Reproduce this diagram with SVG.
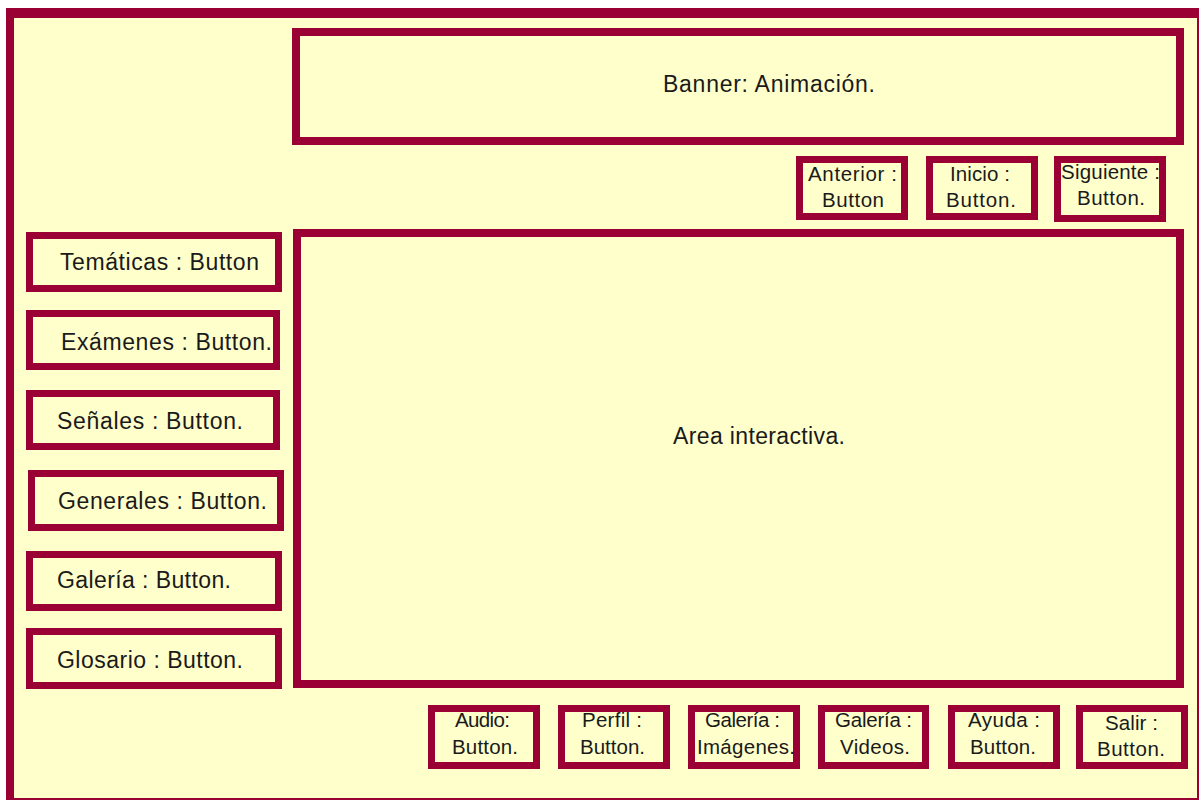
<svg xmlns="http://www.w3.org/2000/svg" width="1201" height="800" viewBox="0 0 1201 800">
<style>
.box{fill:#FFFFCC;stroke:#9B0035;stroke-width:7}
.big{fill:#FFFFCC;stroke:#9B0035;stroke-width:8}
.t{font-family:"Liberation Sans",Arial,sans-serif;fill:#1a1a1a;text-anchor:middle}
.l{font-size:23px}
.s{font-size:20.5px}
</style>
<rect x="0" y="0" width="1201" height="800" fill="#FFFFFF"/>
<g id="frame">
<rect x="7" y="9" width="1191" height="790" fill="#FFFFCC" stroke="#9B0035" stroke-width="2"/>
<rect x="6" y="8" width="1193" height="10" fill="#9B0035"/>
<rect x="6" y="8" width="8" height="792" fill="#9B0035"/>
</g>
<g id="connectors"/>
<g id="banner">
<rect class="big" x="296" y="32" width="884" height="109"/>
<text class="t l" x="769" y="92" textLength="212">Banner: Animación.</text>
</g>
<g id="area">
<rect class="big" x="297" y="233" width="883" height="451"/>
<text class="t l" x="759" y="444" textLength="172">Area interactiva.</text>
</g>
<g id="tematicas">
<rect class="box" x="29.5" y="235.5" width="249" height="53"/>
<text class="t l" x="159.5" y="270" textLength="199">Temáticas : Button</text>
</g>
<g id="examenes">
<rect class="box" x="29.5" y="313.5" width="247" height="53"/>
<text class="t l" x="166.5" y="350" textLength="211">Exámenes : Button.</text>
</g>
<g id="senales">
<rect class="box" x="29.5" y="393.5" width="247" height="53"/>
<text class="t l" x="150" y="429" textLength="186">Señales : Button.</text>
</g>
<g id="generales">
<rect class="box" x="31.5" y="473.5" width="249" height="54"/>
<text class="t l" x="162.5" y="509" textLength="209">Generales : Button.</text>
</g>
<g id="galeria">
<rect class="box" x="29.5" y="554.5" width="249" height="53"/>
<text class="t l" x="144" y="588" textLength="174">Galería : Button.</text>
</g>
<g id="glosario">
<rect class="box" x="29.5" y="631.5" width="249" height="54"/>
<text class="t l" x="150" y="668" textLength="186">Glosario : Button.</text>
</g>
<g id="anterior">
<rect class="box" x="799.5" y="159.5" width="105" height="57"/>
<text class="t s" x="852.5" y="181" textLength="89">Anterior :</text>
<text class="t s" x="853" y="207" textLength="62">Button</text>
</g>
<g id="inicio">
<rect class="box" x="929.5" y="159.5" width="105" height="57"/>
<text class="t s" x="980" y="181" textLength="60">Inicio :</text>
<text class="t s" x="981" y="207" textLength="70">Button.</text>
</g>
<g id="siguiente">
<rect class="box" x="1057.5" y="159.5" width="105" height="59"/>
<text class="t s" x="1110.5" y="179" textLength="99">Siguiente :</text>
<text class="t s" x="1111" y="205" textLength="68">Button.</text>
</g>
<g id="audio">
<rect class="box" x="431.5" y="708.5" width="105" height="57"/>
<text class="t s" x="482.5" y="727" textLength="55">Audio:</text>
<text class="t s" x="485" y="754" textLength="66">Button.</text>
</g>
<g id="perfil">
<rect class="box" x="561.5" y="708.5" width="105" height="57"/>
<text class="t s" x="612" y="727" textLength="60">Perfil :</text>
<text class="t s" x="612.5" y="754" textLength="65">Button.</text>
</g>
<g id="galeria-imagenes">
<rect class="box" x="691.5" y="708.5" width="105" height="57"/>
<text class="t s" x="742.5" y="727" textLength="75">Galería :</text>
<text class="t s" x="746" y="754" textLength="98">Imágenes.</text>
</g>
<g id="galeria-videos">
<rect class="box" x="821.5" y="708.5" width="104" height="57"/>
<text class="t s" x="873.5" y="727" textLength="77">Galería :</text>
<text class="t s" x="875" y="754" textLength="70">Videos.</text>
</g>
<g id="ayuda">
<rect class="box" x="951.5" y="708.5" width="105" height="57"/>
<text class="t s" x="1004" y="727" textLength="72">Ayuda :</text>
<text class="t s" x="1003" y="754" textLength="66">Button.</text>
</g>
<g id="salir">
<rect class="box" x="1079.5" y="708.5" width="105" height="57"/>
<text class="t s" x="1131.5" y="730" textLength="53">Salir :</text>
<text class="t s" x="1131" y="756" textLength="68">Button.</text>
</g>
</svg>
